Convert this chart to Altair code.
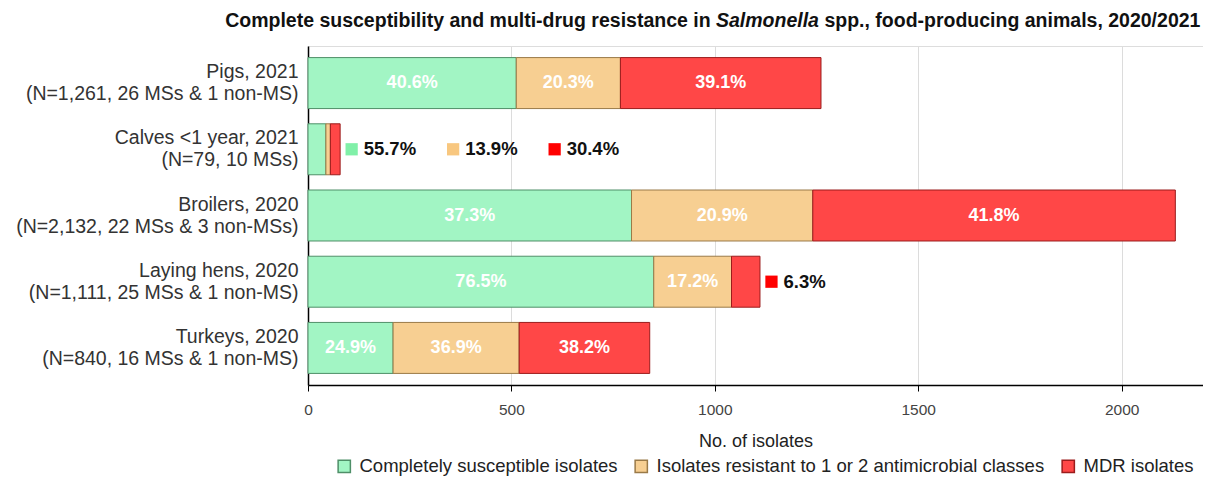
import altair as alt
import pandas as pd

# ---------------- data ----------------
categories = [
    "Pigs, 2021|(N=1,261, 26 MSs & 1 non-MS)",
    "Calves <1 year, 2021|(N=79, 10 MSs)",
    "Broilers, 2020|(N=2,132, 22 MSs & 3 non-MSs)",
    "Laying hens, 2020|(N=1,111, 25 MSs & 1 non-MS)",
    "Turkeys, 2020|(N=840, 16 MSs & 1 non-MS)",
]
n_isolates = [1261, 79, 2132, 1111, 840]
pct_susceptible = [40.6, 55.7, 37.3, 76.5, 24.9]
pct_resistant_1_2 = [20.3, 13.9, 20.9, 17.2, 36.9]
pct_mdr = [39.1, 30.4, 41.8, 6.3, 38.2]
series = [
    "Completely susceptible isolates",
    "Isolates resistant to 1 or 2 antimicrobial classes",
    "MDR isolates",
]
x_ticks = [0, 500, 1000, 1500, 2000]

# ---------------- layout / style ----------------
W, H = 895, 339
XMAX = 2200
PX = W / XMAX
FONT = "Liberation Sans, Arial, sans-serif"
fill_colors = ["#a2f5c4", "#f7cf92", "#ff4747"]
stroke_colors = ["#4f8f68", "#9a7a48", "#9b1c1c"]
ann_colors = ["#80f0a8", "#f8c77f", "#ff0000"]

rows, ann = [], []
for cat, n, ps, pr, pm in zip(categories, n_isolates, pct_susceptible, pct_resistant_1_2, pct_mdr):
    start = 0.0
    slot = 0
    for i, p in enumerate([ps, pr, pm]):
        cnt = n * p / 100.0
        inside = cnt * PX > 40
        rows.append({
            "cat": cat, "series": series[i], "start": start, "end": start + cnt,
            "mid": start + cnt / 2, "label": f"{p:.1f}%", "inside": inside,
        })
        if not inside:
            ann.append({
                "cat": cat, "label": f"{p:.1f}%", "col": ann_colors[i],
                "sx": n + (11.5 + slot * 101.5) / PX,
                "tx": n + (23.5 + slot * 101.5) / PX,
            })
            slot += 1
        start += cnt

df = pd.DataFrame(rows)
df_in = df[df["inside"]]
df_ann = pd.DataFrame(ann)

yscale = alt.Scale(domain=categories, paddingInner=0.23, paddingOuter=0.175)
xscale = alt.Scale(domain=[0, XMAX], nice=False)

y_enc = alt.Y(
    "cat:N", scale=yscale, title=None,
    axis=alt.Axis(
        labelExpr="split(datum.label, '|')", labelFontSize=19.5, labelColor="#333333",
        labelLineHeight=22, ticks=False, labelPadding=10, labelLimit=0, labelOffset=-11,
        domainColor="#000000", domainWidth=1.5, grid=False, labelFont=FONT,
    ),
)

legend = alt.Legend(
    orient="none", legendX=27, legendY=411, direction="horizontal",
    symbolType="square", symbolSize=150, symbolStrokeWidth=1.5,
    labelFontSize=18.5, labelColor="#222222", labelFont=FONT, columnPadding=14,
    labelOffset=6, labelLimit=0, title=None,
)

bars = alt.Chart(df).mark_bar(strokeWidth=1).encode(
    x=alt.X(
        "start:Q", scale=xscale, title="No. of isolates",
        axis=alt.Axis(
            values=x_ticks, format="d", labelFlush=False, grid=True, gridColor="#dcdcdc",
            domainColor="#000000", domainWidth=1.5, tickColor="#000000", tickSize=6,
            labelFontSize=15.5, labelColor="#444444", labelPadding=11, titleFontSize=18,
            titleFontWeight="normal", titleColor="#222222", titlePadding=15,
            labelFont=FONT, titleFont=FONT,
        ),
    ),
    x2="end:Q",
    y=y_enc,
    color=alt.Color("series:N", scale=alt.Scale(domain=series, range=fill_colors), legend=legend),
    stroke=alt.Stroke("series:N", scale=alt.Scale(domain=series, range=stroke_colors), legend=legend),
)

inside_txt = alt.Chart(df_in).mark_text(
    color="white", fontWeight="bold", fontSize=18, font=FONT, baseline="middle"
).encode(x=alt.X("mid:Q", scale=xscale), y=alt.Y("cat:N", scale=yscale), text="label:N")

ann_sq = alt.Chart(df_ann).mark_square(size=150, opacity=1).encode(
    x=alt.X("sx:Q", scale=xscale), y=alt.Y("cat:N", scale=yscale),
    fill=alt.Fill("col:N", scale=None, legend=None),
)
ann_txt = alt.Chart(df_ann).mark_text(
    color="#111111", fontWeight="bold", fontSize=18.5, font=FONT, align="left", baseline="middle"
).encode(x=alt.X("tx:Q", scale=xscale), y=alt.Y("cat:N", scale=yscale), text="label:N")

# title in three pieces (italic genus name)
title_parts = [
    "Complete susceptibility and multi-drug resistance in",
    "Salmonella",
    "spp., food-producing animals, 2020/2021",
]
TY = -25
XA = 408
t1 = alt.Chart(pd.DataFrame({"t": [title_parts[0]]})).mark_text(
    fontWeight="bold", fontSize=19.5, font=FONT, align="right", baseline="middle", color="#111111"
).encode(x=alt.value(XA - 5.4), y=alt.value(TY), text="t:N")
t2 = alt.Chart(pd.DataFrame({"t": [title_parts[1]]})).mark_text(
    fontWeight="bold", fontStyle="italic", fontSize=19.5, font=FONT, align="left",
    baseline="middle", color="#111111"
).encode(x=alt.value(XA), y=alt.value(TY), text="t:N")
t3 = alt.Chart(pd.DataFrame({"t": [title_parts[2]]})).mark_text(
    fontWeight="bold", fontSize=19.5, font=FONT, align="left", baseline="middle", color="#111111"
).encode(x=alt.value(XA + 103 + 5.4), y=alt.value(TY), text="t:N")

chart = alt.layer(bars, inside_txt, ann_sq, ann_txt, t1, t2, t3).properties(
    width=W, height=H,
    autosize=alt.AutoSizeParams(type="none"),
    padding={"left": 300, "top": 38, "right": 0, "bottom": 92},
).configure_view(stroke=None).configure(font=FONT)

chart.save("out.html", embed_options={"renderer": "svg", "actions": False})
